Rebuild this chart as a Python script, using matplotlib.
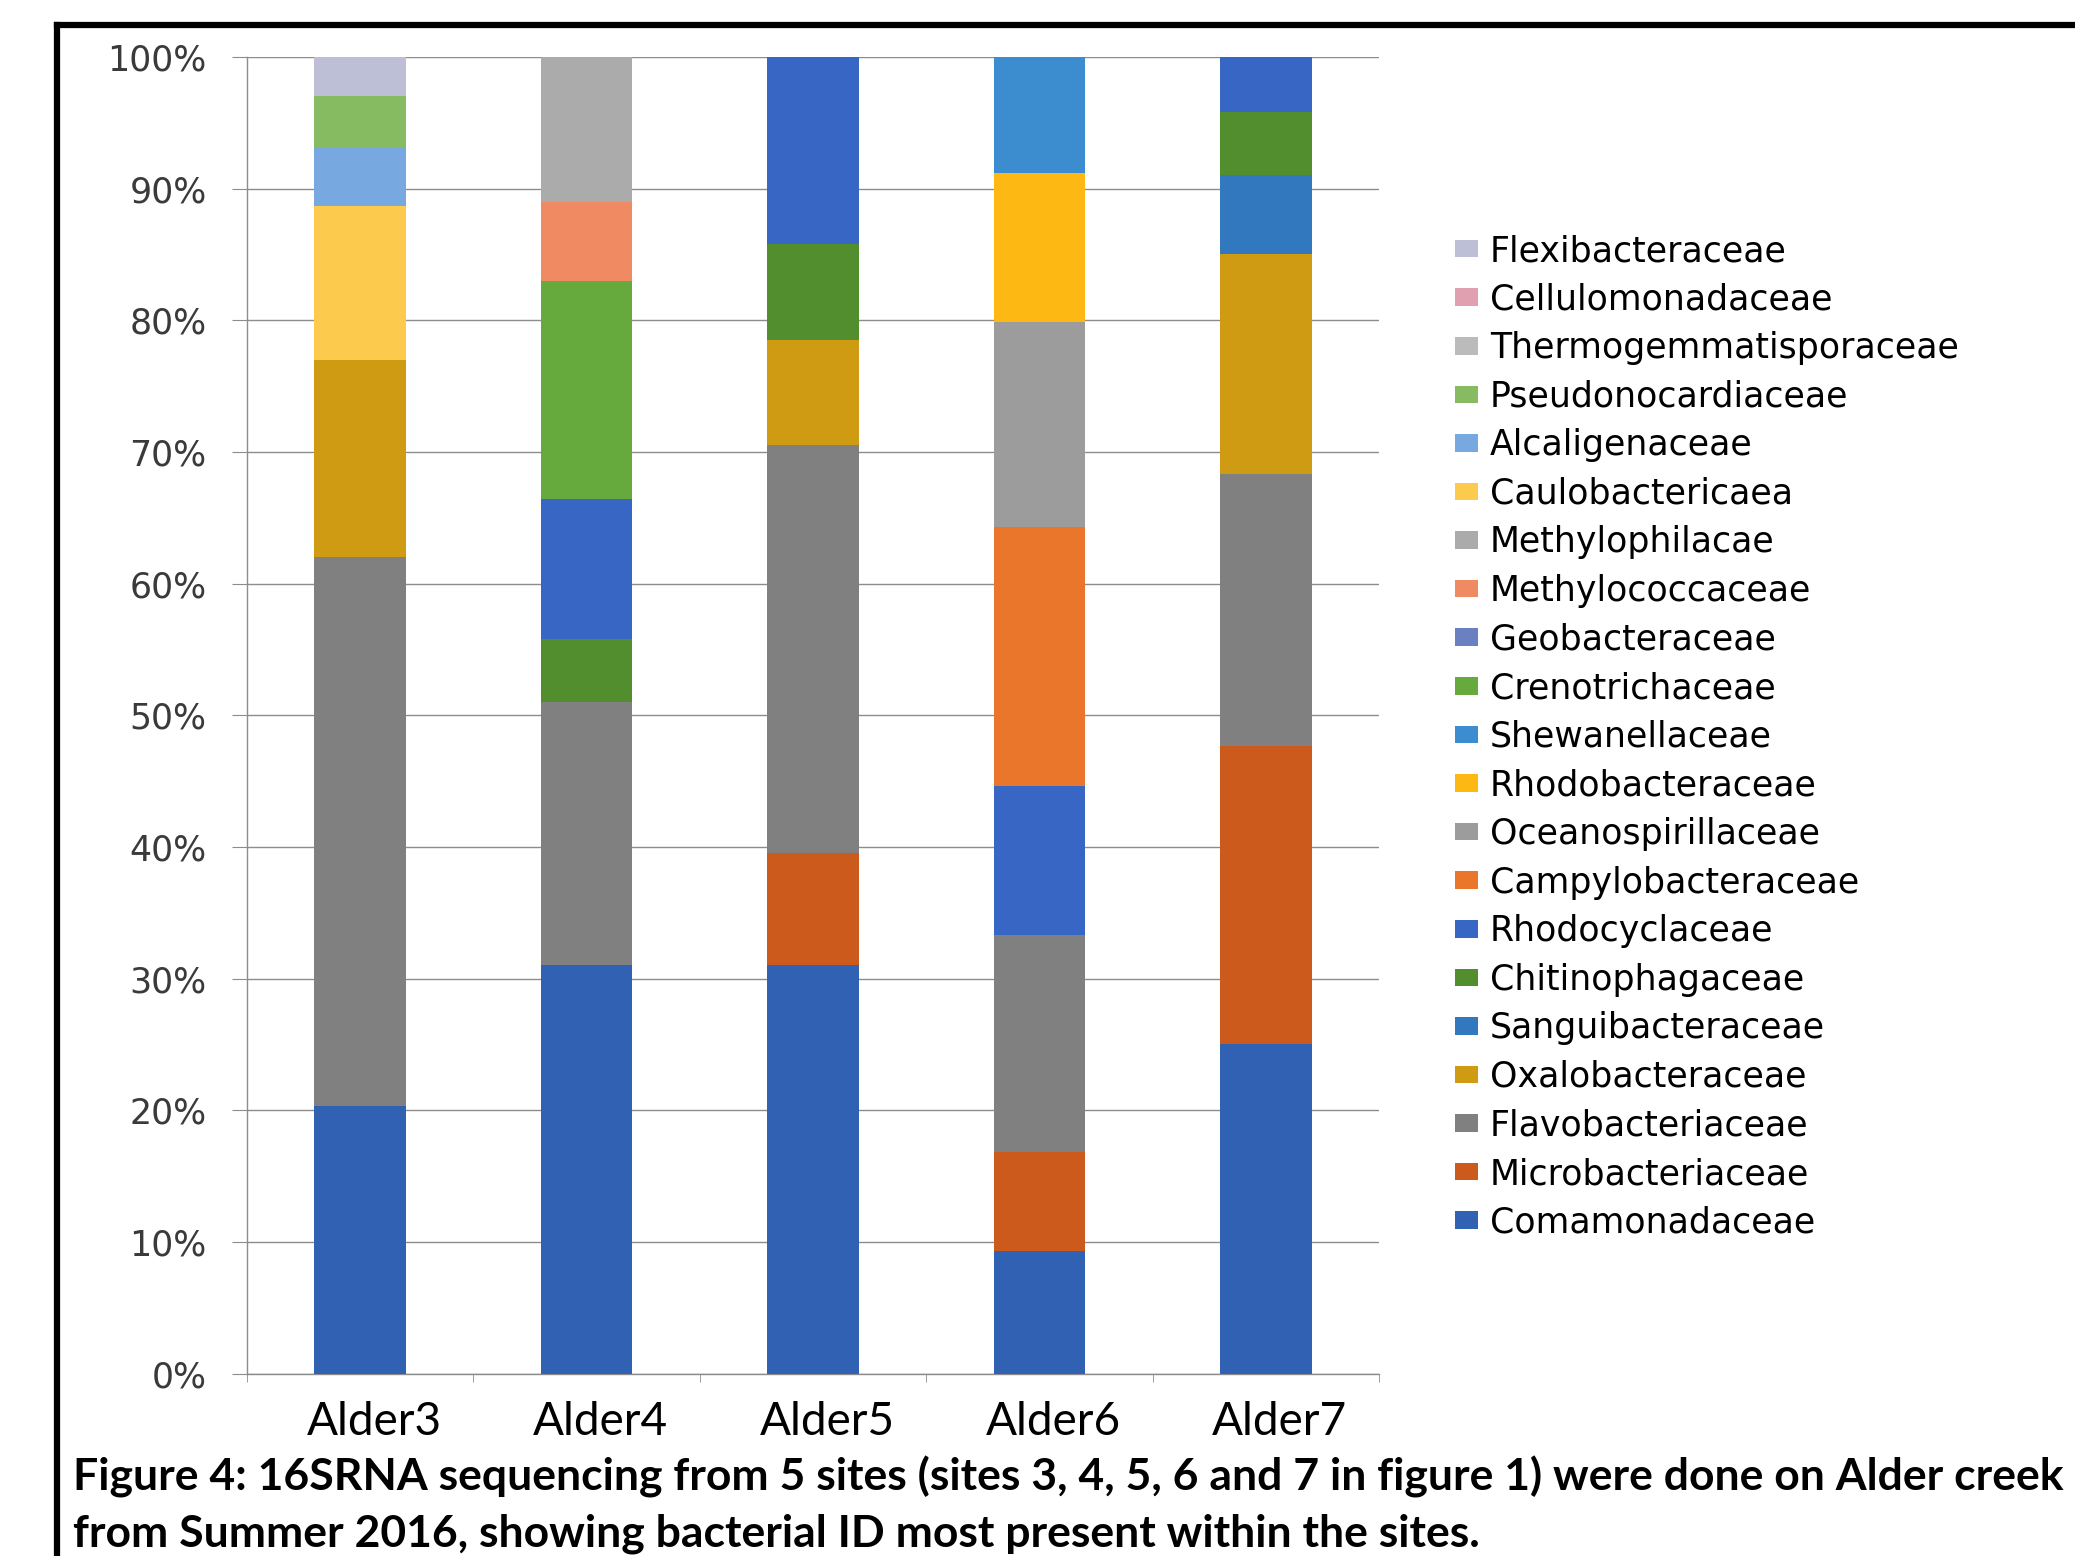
import matplotlib
matplotlib.use("Agg")
import matplotlib.pyplot as plt
import matplotlib.transforms as mtransforms
from matplotlib.ticker import PercentFormatter, MultipleLocator, FixedLocator
from matplotlib.lines import Line2D
import numpy as np

sites = ['Alder3', 'Alder4', 'Alder5', 'Alder6', 'Alder7']

# relative abundance (%) per site, bottom of the stack first
Comamonadaceae         = [20.3, 31.0, 31.0,  9.3, 25.0]
Microbacteriaceae      = [ 0.0,  0.0,  8.5,  7.5, 22.7]
Flavobacteriaceae      = [41.7, 20.0, 31.0, 16.5, 20.6]
Oxalobacteraceae       = [15.0,  0.0,  8.0,  0.0, 16.7]
Sanguibacteraceae      = [ 0.0,  0.0,  0.0,  0.0,  6.0]
Chitinophagaceae       = [ 0.0,  4.8,  7.3,  0.0,  4.8]
Rhodocyclaceae         = [ 0.0, 10.6, 14.2, 11.3,  4.2]
Campylobacteraceae     = [ 0.0,  0.0,  0.0, 19.7,  0.0]
Oceanospirillaceae     = [ 0.0,  0.0,  0.0, 15.6,  0.0]
Rhodobacteraceae       = [ 0.0,  0.0,  0.0, 11.3,  0.0]
Shewanellaceae         = [ 0.0,  0.0,  0.0,  8.8,  0.0]
Crenotrichaceae        = [ 0.0, 16.6,  0.0,  0.0,  0.0]
Geobacteraceae         = [ 0.0,  0.0,  0.0,  0.0,  0.0]
Methylococcaceae       = [ 0.0,  6.0,  0.0,  0.0,  0.0]
Methylophilacae        = [ 0.0, 11.0,  0.0,  0.0,  0.0]
Caulobactericaea       = [11.7,  0.0,  0.0,  0.0,  0.0]
Alcaligenaceae         = [ 4.4,  0.0,  0.0,  0.0,  0.0]
Pseudonocardiaceae     = [ 3.9,  0.0,  0.0,  0.0,  0.0]
Thermogemmatisporaceae = [ 0.0,  0.0,  0.0,  0.0,  0.0]
Cellulomonadaceae      = [ 0.0,  0.0,  0.0,  0.0,  0.0]
Flexibacteraceae       = [ 3.0,  0.0,  0.0,  0.0,  0.0]

families = ['Comamonadaceae', 'Microbacteriaceae', 'Flavobacteriaceae',
            'Oxalobacteraceae', 'Sanguibacteraceae', 'Chitinophagaceae',
            'Rhodocyclaceae', 'Campylobacteraceae', 'Oceanospirillaceae',
            'Rhodobacteraceae', 'Shewanellaceae', 'Crenotrichaceae',
            'Geobacteraceae', 'Methylococcaceae', 'Methylophilacae',
            'Caulobactericaea', 'Alcaligenaceae', 'Pseudonocardiaceae',
            'Thermogemmatisporaceae', 'Cellulomonadaceae', 'Flexibacteraceae']
values = [Comamonadaceae, Microbacteriaceae, Flavobacteriaceae,
          Oxalobacteraceae, Sanguibacteraceae, Chitinophagaceae,
          Rhodocyclaceae, Campylobacteraceae, Oceanospirillaceae,
          Rhodobacteraceae, Shewanellaceae, Crenotrichaceae,
          Geobacteraceae, Methylococcaceae, Methylophilacae,
          Caulobactericaea, Alcaligenaceae, Pseudonocardiaceae,
          Thermogemmatisporaceae, Cellulomonadaceae, Flexibacteraceae]
colors = ['#3161b2', '#cc5a1c', '#808080', '#cf9b12', '#3278be', '#528d2e',
          '#3866c4', '#ea762c', '#9c9c9c', '#fdb813', '#3c8dd0', '#66aa3e',
          '#6a80c0', '#f08a62', '#ababab', '#fccb4e', '#78a8e0', '#86bb62',
          '#bbbbbb', '#e0a0b0', '#bdbfd6']

narrow = ['Lato', 'Open Sans', 'DejaVu Sans']

fig = plt.figure(figsize=(20.75, 15.56), dpi=100)
ax = fig.add_axes([247 / 2075, 1 - 1373.5 / 1556, (1379 - 247) / 2075, (1373.5 - 57) / 1556])

x = np.arange(len(sites))
bottom = np.zeros(len(sites))
handles = []
for name, vals, c in zip(families, values, colors):
    b = ax.bar(x, vals, width=0.405, bottom=bottom, color=c, label=name, zorder=3)
    handles.append(b)
    bottom += np.array(vals)

ax.set_xlim(-0.5, 4.5)
ax.set_ylim(0, 100)
ax.yaxis.set_major_locator(MultipleLocator(10))
ax.yaxis.set_major_formatter(PercentFormatter(decimals=0))
ax.grid(axis='y', color='#8c8c8c', linewidth=1.0, zorder=0)

ax.set_xticks(x)
ax.set_xticklabels(sites, family=narrow, fontsize=33)
ax.xaxis.set_minor_locator(FixedLocator(np.arange(-0.5, 5, 1)))
ax.tick_params(axis='x', which='major', length=0, pad=20)
ax.tick_params(axis='x', which='minor', length=6, color='#8c8c8c', direction='out')
ax.tick_params(axis='y', length=11, color='#8c8c8c', pad=18, labelsize=25, labelcolor='#3a3a3a')

# site names sit a little right of the bar centres
shift = mtransforms.ScaledTranslation(0.14, 0, fig.dpi_scale_trans)
for lbl in ax.get_xticklabels():
    lbl.set_transform(lbl.get_transform() + shift)

for s in ['top', 'right']:
    ax.spines[s].set_visible(False)
for s in ['left', 'bottom']:
    ax.spines[s].set_color('#8c8c8c')
    ax.spines[s].set_linewidth(1.0)

fig.legend(handles[::-1], families[::-1], loc='upper left',
           bbox_to_anchor=(1455 / 2075, 1 - 234 / 1556), frameon=False,
           prop={'family': 'DejaVu Sans', 'size': 25}, labelspacing=0.42,
           handlelength=0.65, handleheight=0.4, handletextpad=0.35,
           borderpad=0, borderaxespad=0)

# frame around the figure (left and top edges)
fig.add_artist(Line2D([57 / 2075, 57 / 2075], [0, 1 - 25 / 1556], color='black',
                      linewidth=4.5, transform=fig.transFigure, solid_capstyle='projecting'))
fig.add_artist(Line2D([57 / 2075, 1], [1 - 25 / 1556, 1 - 25 / 1556], color='black',
                      linewidth=4.5, transform=fig.transFigure, solid_capstyle='projecting'))

fig.text(73 / 2075, 1 - 1477 / 1556,
         'Figure 4: 16SRNA sequencing from 5 sites (sites 3, 4, 5, 6 and 7 in figure 1) were done on Alder creek',
         family=narrow, fontweight='bold', fontsize=32, va='center', ha='left')
fig.text(73 / 2075, 1 - 1534 / 1556,
         'from Summer 2016, showing bacterial ID most present within the sites.',
         family=narrow, fontweight='bold', fontsize=32, va='center', ha='left')

fig.savefig('out.png', dpi=100)
